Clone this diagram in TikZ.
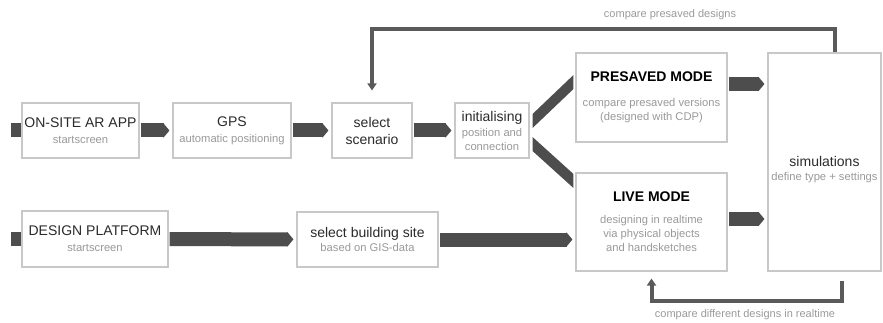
\documentclass[tikz,border=0pt]{standalone}
\usepackage{fontspec}
\setmainfont{Liberation Sans}
\usepackage{xcolor}
\usepackage{tikz}
\usetikzlibrary{arrows.meta}

\definecolor{boxgrey}{HTML}{C8C8C8}
\definecolor{titlec}{HTML}{2B2B2B}
\definecolor{subc}{HTML}{9A9A9A}
\definecolor{arrowc}{HTML}{4D4D4D}
\definecolor{backc}{HTML}{5A5A5A}

\newcommand{\ttl}[1]{{\fontsize{14}{17}\selectfont\color{titlec}#1}}
\newcommand{\btl}[1]{{\fontsize{14}{17}\selectfont\bfseries\color{black}#1}}

\begin{document}
\begin{tikzpicture}[x=1pt, y=-1pt,
    box/.style={rectangle, draw=boxgrey, line width=1.1pt, fill=white, align=center, inner sep=0pt, font=\fontsize{11.2}{14}\selectfont, text=subc},
    flow/.style={line width=14pt, draw=arrowc, -{Triangle[width=14pt,length=6pt]}, shorten <=1pt, shorten >=3pt},
    stub/.style={line width=14pt, draw=arrowc},
    back/.style={line width=4pt, draw=backc, -{Triangle[width=9pt,length=7pt]}},
    note/.style={font=\fontsize{11}{12}\selectfont, text=subc}]

    \useasboundingbox (0,0) rectangle (883,323);

    \node[box, minimum width=117pt, minimum height=55pt] (onsite) at (80.5,130.5) {\ttl{ON-SITE AR APP}\\[2pt]startscreen};
    \node[box, minimum width=118pt, minimum height=55pt] (gps) at (232,130.5) {\ttl{GPS}\\[2pt]automatic positioning};
    \node[box, minimum width=80pt, minimum height=55pt] (scen) at (372,130.5) {\ttl{select}\\[3pt]\ttl{scenario}};
    \node[box, minimum width=74pt, minimum height=55pt] (init) at (492,130.5) {\ttl{initialising}\\[1pt]position and\\connection};
    \node[box, minimum width=151pt, minimum height=89pt] (pres) at (651.5,97.5) {\btl{PRESAVED MODE}\\[11pt]compare presaved versions\\(designed with CDP)};
    \node[box, minimum width=151pt, minimum height=98pt] (live) at (651.5,222) {\btl{LIVE MODE}\\[8pt]designing in realtime\\via physical objects\\and handsketches};
    \node[box, minimum width=113pt, minimum height=218pt] (sim) at (824.5,162) {\rule{0pt}{0pt}\\[12pt]\ttl{simulations}\\[0pt]define type + settings};

    \node[box, minimum width=146pt, minimum height=56pt] (design) at (95,239) {\ttl{DESIGN PLATFORM}\\[2pt]startscreen};
    \node[box, minimum width=141pt, minimum height=55pt] (site) at (367.5,239.5) {\ttl{select building site}\\[0pt]based on GIS-data};

    \coordinate (inA) at (11,130.5);
    \coordinate (inB) at (11,239);

    % block arrows
    \draw[stub] (inA) -- (onsite.west);
    \draw[stub] (inB) -- (design.west);
    \draw[flow] (onsite) -- (gps);
    \draw[flow] (gps) -- (scen);
    \draw[flow] (scen) -- (init);
    \draw[flow] ([yshift=13.5pt]pres.east) -- ([yshift=13.5pt]pres.east -| sim.west);
    \draw[flow] ([yshift=3pt]live.east) -- ([yshift=3pt]live.east -| sim.west);
    \draw[flow] (design) -- (site);
    \draw[flow] (site.east) -- (site.east -| live.west);

    % branches out of initialising
    \fill[arrowc] ([xshift=3pt,yshift=16.5pt]init.east) -- ([xshift=3pt,yshift=2.5pt]init.east)
        -- ([xshift=-2pt,yshift=8.5pt]pres.west) -- ([xshift=-2pt,yshift=22.5pt]pres.west) -- cycle;
    \fill[arrowc] ([xshift=3pt,yshift=-6.5pt]init.east) -- ([xshift=3pt,yshift=-20.5pt]init.east)
        -- ([xshift=-2pt,yshift=34pt]live.west) -- ([xshift=-2pt,yshift=48pt]live.west) -- cycle;

    % feedback loops
    \draw[back] ([xshift=10.5pt]sim.north) -- ++(0,-23) -| ([yshift=12pt]scen.north);
    \draw[back] ([xshift=17.5pt,yshift=-9pt]sim.south) -- ++(0,20) -| ([yshift=-7pt]live.south);
    \node[note] (lbltop) at (670,15) {compare presaved designs};
    \node[note] (lblbot) at (745,315) {compare different designs in realtime};
\end{tikzpicture}
\end{document}
